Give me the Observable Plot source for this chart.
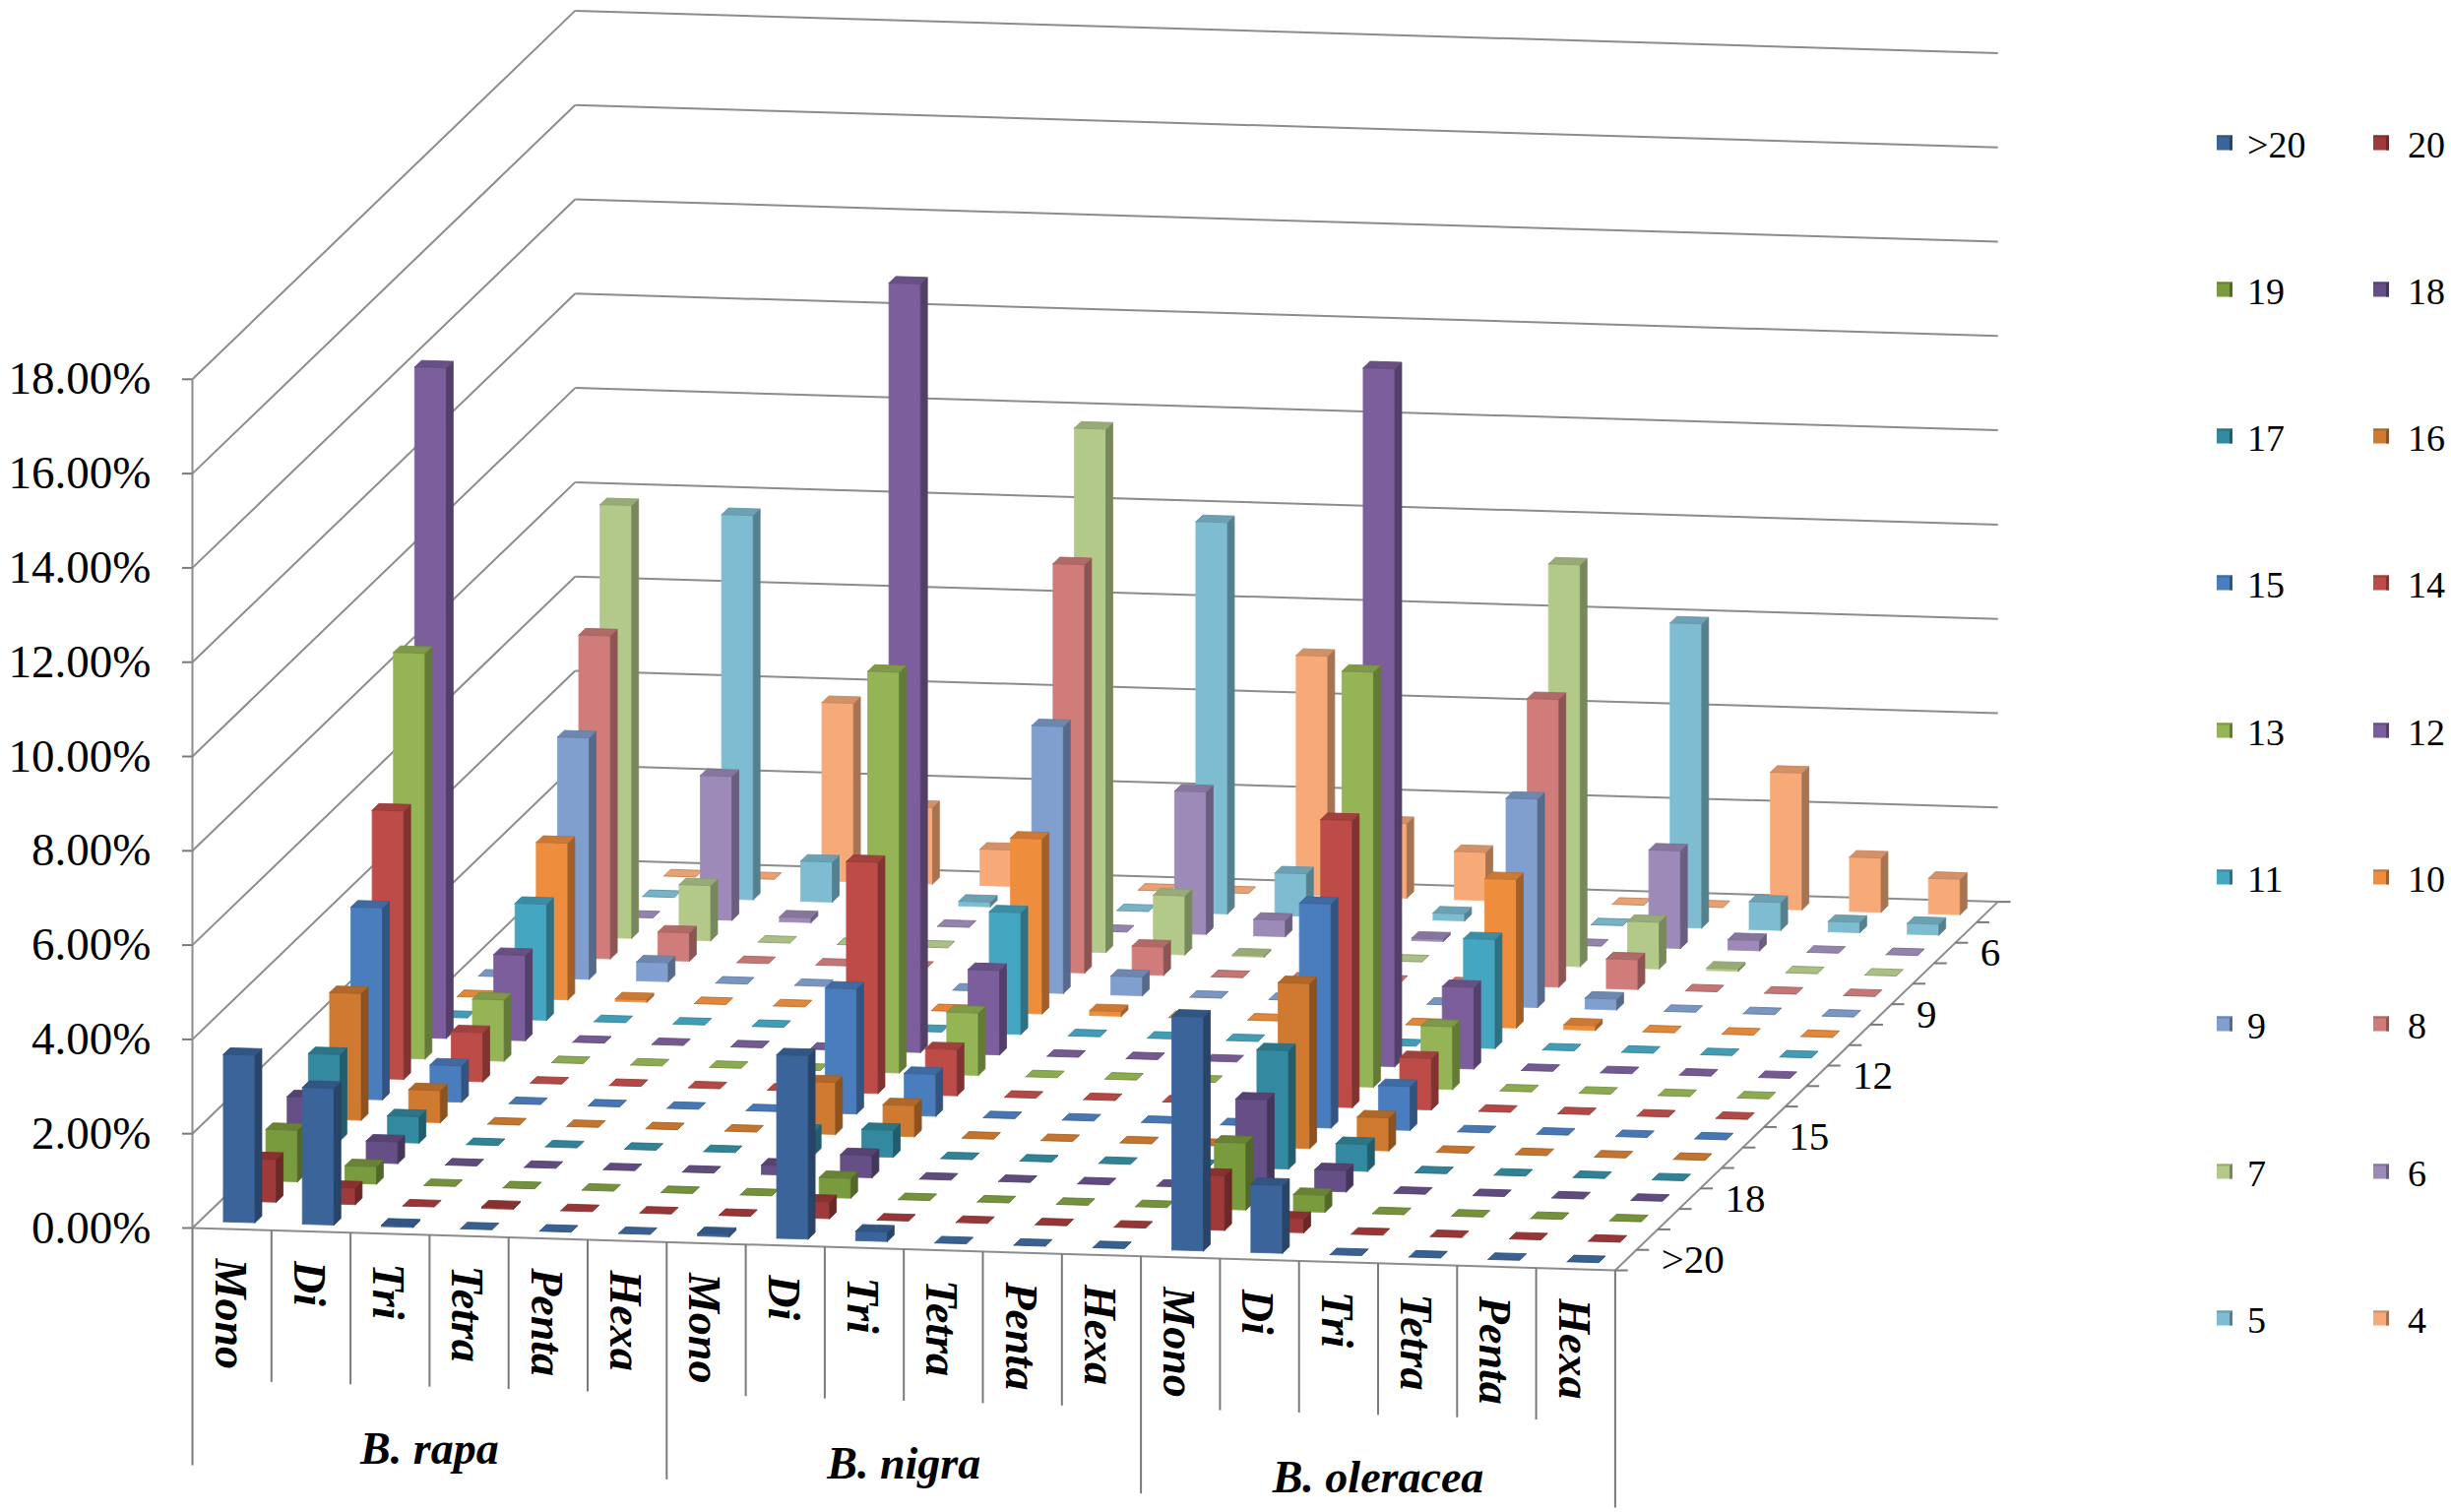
<!DOCTYPE html>
<html>
<head>
<meta charset="utf-8">
<script src="https://cdn.jsdelivr.net/npm/d3@7"></script>
<script src="https://cdn.jsdelivr.net/npm/@observablehq/plot@0.6"></script>
<style>
  body { margin: 0; background: #fff; }
  #wrap { position: relative; width: 2490px; height: 1536px; font-family: "Liberation Serif", "Tinos", "Times New Roman", Times, "DejaVu Serif", "Noto Serif", serif; }
  #wrap svg text { font-family: "Liberation Serif", "Tinos", "Times New Roman", Times, "DejaVu Serif", "Noto Serif", serif; }
  #legend { position: absolute; left: 0; top: 0; width: 2490px; height: 1536px; pointer-events: none; }
  .lg-label { position: absolute; font-size: 38px; line-height: 38px; color: #000; transform: translateY(-50%); }
  .lg-sw { position: absolute; width: 13px; height: 13px; transform: translateY(-50%); }
</style>
</head>
<body>
<div id="wrap"><div id="legend"></div></div>
<script>
// ---------------- data ----------------
const species = ["B. rapa", "B. nigra", "B. oleracea"];
const motifs = ["Mono", "Di", "Tri", "Tetra", "Penta", "Hexa"];
const repeats = [">20", "20", "19", "18", "17", "16", "15", "14", "13", "12", "11", "10", "9", "8", "7", "6", "5", "4"];
const colors = ["#3B659A", "#A0393A", "#7A9A3E", "#654F86", "#33899F", "#CF7A30",
                "#4A7DBE", "#BD4C48", "#94B455", "#7B5E9B", "#45A6C1", "#EE8E3D",
                "#809ECE", "#CF7C7A", "#B2C98A", "#9D8AB9", "#7EBDD1", "#F7AA78"];
const valueTicks = [0, 2, 4, 6, 8, 10, 12, 14, 16, 18];
const depthTickLabels = [">20", "18", "15", "12", "9", "6"];

// percentages, ordered like `repeats`
const rapaMono   = [3.55, 0.91, 1.09, 1.35, 1.83, 2.69, 4.07, 5.69, 8.60, 14.22, 0, 0, 0, 0, 0, 0, 0, 0];
const rapaDi     = [2.90, 0.35, 0.37, 0.46, 0.56, 0.68, 0.77, 1.04, 1.30, 1.81, 2.46, 3.32, 5.12, 6.85, 9.18, 0, 0, 0];
const rapaTri    = [0.03, 0, 0, 0, 0, 0, 0, 0, 0, 0, 0, 0.05, 0.40, 0.60, 1.17, 3.05, 8.15, 0];
const rapaTetra  = [0, 0.03, 0, 0, 0, 0, 0, 0, 0, 0, 0, 0, 0, 0, 0, 0.10, 0.85, 3.78];
const rapaPenta  = [0, 0, 0, 0, 0, 0, 0, 0, 0, 0, 0, 0, 0, 0, 0, 0, 0.20, 1.62];
const rapaHexa   = [0, 0, 0, 0, 0, 0, 0, 0, 0, 0, 0, 0, 0, 0, 0, 0, 0.10, 0.77];
const nigraMono  = [0.05, 0, 0, 0.20, 0.50, 1.10, 2.65, 4.90, 8.50, 16.30, 0, 0, 0, 0, 0, 0, 0, 0];
const nigraDi    = [3.89, 0.36, 0.42, 0.47, 0.57, 0.66, 0.89, 0.98, 1.32, 1.79, 2.58, 3.71, 5.66, 8.66, 11.10, 0, 0, 0];
const nigraTri   = [0.20, 0, 0, 0, 0, 0, 0, 0, 0, 0, 0, 0.10, 0.40, 0.60, 1.25, 3.02, 8.30, 0];
const nigraTetra = [0, 0, 0, 0, 0, 0, 0, 0, 0, 0, 0, 0, 0, 0, 0.03, 0.35, 0.90, 5.08];
const nigraPenta = [0, 0, 0, 0, 0, 0, 0, 0, 0, 0, 0, 0, 0, 0, 0, 0, 0.20, 1.58];
const nigraHexa  = [0, 0, 0, 0, 0, 0, 0, 0, 0, 0, 0, 0, 0, 0, 0, 0.05, 0.15, 1.02];
const oleMono    = [4.96, 1.16, 1.42, 1.90, 2.51, 3.50, 4.75, 6.09, 8.80, 14.80, 0, 0, 0, 0, 0, 0, 0, 0];
const oleDi      = [1.44, 0.30, 0.36, 0.45, 0.57, 0.70, 0.93, 1.09, 1.33, 1.73, 2.31, 3.15, 4.42, 6.10, 8.52, 0, 0, 0];
const oleTri     = [0, 0, 0, 0, 0, 0, 0, 0, 0, 0, 0, 0.10, 0.23, 0.63, 0.99, 2.07, 6.45, 0];
const oleTetra   = [0, 0, 0, 0, 0, 0, 0, 0, 0, 0, 0, 0, 0, 0, 0.05, 0.22, 0.59, 2.90];
const olePenta   = [0, 0, 0, 0, 0, 0, 0, 0, 0, 0, 0, 0, 0, 0, 0, 0, 0.22, 1.15];
const oleHexa    = [0, 0, 0, 0, 0, 0, 0, 0, 0, 0, 0, 0, 0, 0, 0, 0, 0.23, 0.75];

const table = [
  [rapaMono, rapaDi, rapaTri, rapaTetra, rapaPenta, rapaHexa],
  [nigraMono, nigraDi, nigraTri, nigraTetra, nigraPenta, nigraHexa],
  [oleMono, oleDi, oleTri, oleTetra, olePenta, oleHexa]
];

const FONT = "'Liberation Serif', 'Tinos', 'Times New Roman', Times, 'DejaVu Serif', 'Noto Serif', serif";

// ---------------- oblique 3D projection into (u, w) scale units ----------------
const NCAT = species.length * motifs.length;   // 18
const NDEP = repeats.length;                     // 18
const KX = 21.6 / 80.3;   // horizontal shift per depth row (category units)
const KY = 20.8 / 47.9;   // vertical rise per depth row (percent units)
const KC = 2.39 / 47.9;   // slight fall per category (percent units)
const P = (X, Z, V) => [X + Z * KX, V + Z * KY - X * KC];

const darker = (c, k) => d3.color(c).darker(k).formatHex();

// bars sorted back-to-front, left-to-right (painter's order)
const bars = [];
species.forEach((sp, s) => motifs.forEach((m, k) => repeats.forEach((r, d) => {
  bars.push({X: s * motifs.length + k, d, v: table[s][k][d], color: colors[d]});
})));
bars.sort((a, b) => b.d - a.d || a.X - b.X);

const faceRows = [];
let fid = 0;
function addFace(pts, fill, stroke) {
  const id = fid++;
  for (const p of [...pts, pts[0]]) {
    const [u, w] = P(...p);
    faceRows.push({id, u, w, fill, stroke});
  }
}
for (const b of bars) {
  const X0 = b.X + 0.3, X1 = b.X + 0.7, Z0 = b.d + 0.34, Z1 = b.d + 0.66, v = b.v;
  if (v > 0) {
    addFace([[X0, Z0, 0], [X1, Z0, 0], [X1, Z0, v], [X0, Z0, v]], b.color, b.color);
    addFace([[X1, Z0, 0], [X1, Z1, 0], [X1, Z1, v], [X1, Z0, v]], darker(b.color, 1.1), darker(b.color, 1.1));
    addFace([[X0, Z0, v], [X1, Z0, v], [X1, Z1, v], [X0, Z1, v]], darker(b.color, 0.45), darker(b.color, 0.7));
  } else {
    addFace([[X0, Z0, 0], [X1, Z0, 0], [X1, Z1, 0], [X0, Z1, 0]], darker(b.color, 0.15), darker(b.color, 0.9));
  }
}

// walls, floor edges, axis lines
const seg = (a, b) => { const [x1, y1] = P(...a), [x2, y2] = P(...b); return {x1, y1, x2, y2}; };
const grid = [];
for (const t of valueTicks) {
  grid.push(seg([0, 0, t], [0, NDEP, t]));        // left wall
  grid.push(seg([0, NDEP, t], [NCAT, NDEP, t]));  // back wall
}
const axes = [
  seg([0, 0, 0], [0, 0, valueTicks[valueTicks.length - 1]]),  // value axis
  seg([0, 0, 0], [NCAT, 0, 0]),                               // category axis (front edge)
  seg([NCAT, 0, 0], [NCAT, NDEP, 0])                          // depth axis
];
const depthTicks = d3.range(NDEP + 1).map(z => { const [u, w] = P(NCAT, z, 0); return {x1: u, y1: w, x2: u + 0.16, y2: w}; });

// category-axis separators (multi-level)
const CAT_DROP = 154 / 47.9, SPECIES_DROP = 241 / 47.9;
const separators = d3.range(NCAT + 1).map(c => seg([c, 0, 0], [c, 0, c % motifs.length === 0 ? -SPECIES_DROP : -CAT_DROP]));

const catLabels = [];
species.forEach((sp, s) => motifs.forEach((m, k) => {
  const [u, w] = P(s * motifs.length + k + 0.47, 0, -30 / 47.9);
  catLabels.push({u, w, label: m});
}));
const speciesLabels = species.map((sp, s) => {
  const [u, w] = P(s * motifs.length + motifs.length / 2, 0, -4.55);
  return {u, w, label: sp};
});
const depthLabels = depthTickLabels.map(l => {
  const [u, w] = P(NCAT, repeats.indexOf(l) + 0.5, 0);
  return {u, w, label: l};
});

const chart = Plot.plot({
  width: 2490,
  height: 1536,
  marginLeft: 195, marginRight: 0, marginTop: 0, marginBottom: 0,
  x: {domain: [0, 24], range: [195, 195 + 80.3 * 24], axis: null},
  y: {domain: [0, 26], range: [1247, 1247 - 47.9 * 26], label: null},
  color: {type: "identity"},
  style: {fontFamily: FONT, background: "#fff", color: "#000", overflow: "visible"},
  marks: [
    Plot.link(grid, {x1: "x1", y1: "y1", x2: "x2", y2: "y2", stroke: "#8c8c8c", strokeWidth: 2}),
    Plot.link(axes, {x1: "x1", y1: "y1", x2: "x2", y2: "y2", stroke: "#8c8c8c", strokeWidth: 2}),
    Plot.link(depthTicks, {x1: "x1", y1: "y1", x2: "x2", y2: "y2", stroke: "#7a7a7a", strokeWidth: 2}),
    Plot.link(separators, {x1: "x1", y1: "y1", x2: "x2", y2: "y2", stroke: "#7a7a7a", strokeWidth: 2}),
    Plot.axisY({ticks: valueTicks, tickFormat: d => d.toFixed(2) + "%", tickSize: 10, tickPadding: 32,
                fontSize: 47, fontFamily: FONT, label: null, stroke: "#7a7a7a", strokeWidth: 2}),
    Plot.line(faceRows, {x: "u", y: "w", z: "id", fill: "fill", stroke: "stroke", strokeWidth: 0.8, curve: "linear"}),
    Plot.text(catLabels, {x: "u", y: "w", text: "label", rotate: 90, textAnchor: "start", lineAnchor: "middle",
                          fontSize: 46, fontWeight: "bold", fontStyle: "italic", fontFamily: FONT, fill: "#000"}),
    Plot.text(speciesLabels, {x: "u", y: "w", text: "label", lineAnchor: "middle",
                              fontSize: 46, fontWeight: "bold", fontStyle: "italic", fontFamily: FONT, fill: "#000"}),
    Plot.text(depthLabels, {x: "u", y: "w", text: "label", dx: 36, textAnchor: "start", lineAnchor: "middle",
                            fontSize: 41, fontFamily: FONT, fill: "#000"})
  ]
});
document.getElementById("wrap").prepend(chart);

// legend (two columns, right of the chart)
const legend = document.getElementById("legend");
repeats.forEach((r, i) => {
  const col = i % 2, row = Math.floor(i / 2);
  const cy = 144.5 + 149.3 * row;
  const sw = document.createElement("div");
  sw.className = "lg-sw";
  sw.style.left = (col ? 2411 : 2252) + "px";
  sw.style.top = cy + "px";
  sw.style.background = colors[i];
  sw.style.borderTop = "2px solid " + darker(colors[i], 0.5);
  sw.style.borderRight = "3px solid " + darker(colors[i], 1.1);
  legend.appendChild(sw);
  const lb = document.createElement("div");
  lb.className = "lg-label";
  lb.style.left = (col ? 2446 : 2283) + "px";
  lb.style.top = (cy + 2) + "px";
  lb.textContent = r;
  legend.appendChild(lb);
});
</script>
</body>
</html>
